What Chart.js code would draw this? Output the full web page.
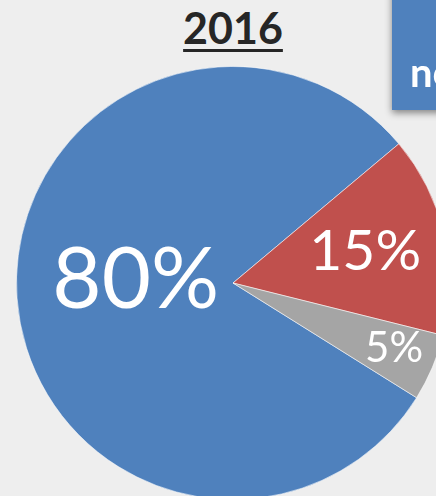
<!DOCTYPE html>
<html>
<head>
<meta charset="utf-8">
<script src="https://cdn.jsdelivr.net/npm/chart.js@4"></script>
<style>
  html, body { margin:0; padding:0; width:436px; height:496px; overflow:hidden; background:#eeeeee; font-family:Lato, "Open Sans", sans-serif; }
  #title { position:absolute; left:0; width:466px; top:6px; text-align:center; font-size:43px; font-weight:700; line-height:1; color:#262626;
           text-decoration:underline; text-decoration-thickness:3px; text-underline-offset:5px; }
  #box { position:absolute; left:392px; top:-10px; width:80px; height:120px; background:#4f81bd; box-shadow:0 3px 7px rgba(0,0,0,0.45); }
  #boxText { position:absolute; left:410px; top:52px; font-size:40px; font-weight:700; line-height:1; color:#fff; white-space:nowrap; }
  #wrap { position:absolute; left:16px; top:66px; width:434px; height:434px; }
</style>
</head>
<body>
<div id="title">2016</div>
<div id="wrap"><canvas id="pie"></canvas></div>
<div id="box"></div>
<div id="boxText">no</div>
<script>
// slice data
const labels = ["A", "B", "C"];
const values = [80, 15, 5];
const colors = ["#4f81bd", "#c0504d", "#a5a5a5"];

// label styling per slice (font px, radial fraction, angle nudge in degrees)
const labelFont = [85, 57, 42];
const labelDist = [0.45, 0.63, 0.80];
const labelNudge = [7.2, -1.3, -1.4];

const pctLabels = {
  id: "pctLabels",
  afterDatasetsDraw(chart){
    const ctx = chart.ctx;
    const arcs = chart.getDatasetMeta(0).data;
    ctx.save();
    ctx.fillStyle = "#fff";
    ctx.textAlign = "center";
    ctx.textBaseline = "alphabetic";
    arcs.forEach((arc, i)=>{
      const p = arc.getProps(["x","y","startAngle","endAngle","outerRadius"], true);
      const a = (p.startAngle + p.endAngle)/2 + labelNudge[i]*Math.PI/180;
      const r = p.outerRadius*labelDist[i];
      const x = p.x + Math.cos(a)*r;
      const y = p.y + Math.sin(a)*r;
      const fs = labelFont[i];
      ctx.font = `400 ${fs}px Lato`;
      ctx.fillText(values[i] + "%", x, y + fs*0.717/2);
    });
    ctx.restore();
  }
};

new Chart(document.getElementById("pie"), {
  type:"pie",
  data:{ labels, datasets:[{ data:values, backgroundColor:colors, borderColor:"rgba(255,255,255,0.55)", borderWidth:1 }] },
  options:{
    responsive:true,
    maintainAspectRatio:false,
    animation:false,
    rotation:122,
    layout:{ padding:0 },
    plugins:{ legend:{ display:false }, tooltip:{ enabled:false }, title:{ display:false } }
  },
  plugins:[pctLabels]
});
</script>
</body>
</html>
